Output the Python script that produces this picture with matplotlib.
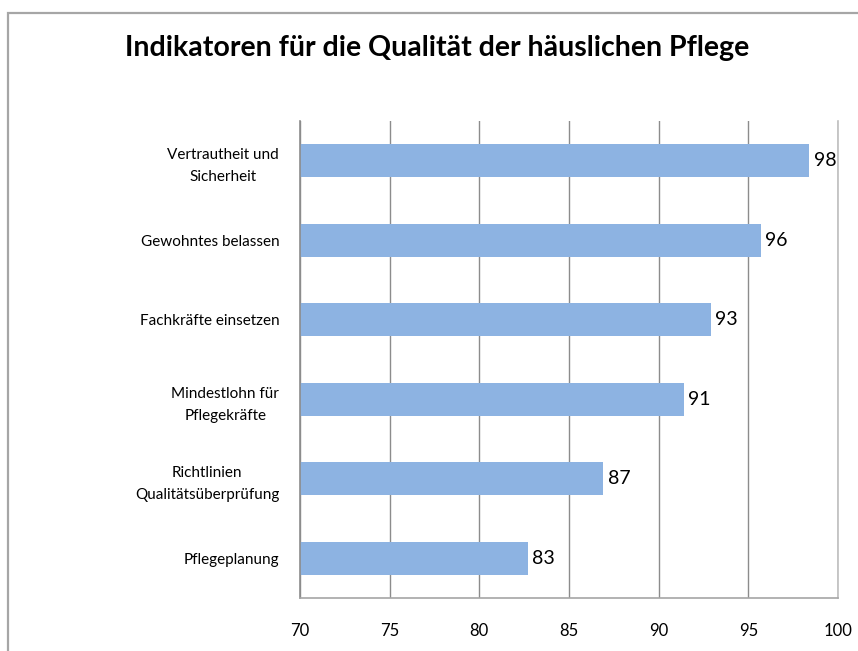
import numpy as np
import matplotlib.pyplot as plt
from matplotlib.patches import Rectangle

plt.rcParams['font.family'] = ['Lato', 'DejaVu Sans']

# data (top to bottom as shown)
categories = ["Vertrautheit und\nSicherheit", "Gewohntes belassen", "Fachkräfte einsetzen",
              "Mindestlohn für\nPflegekräfte", "Richtlinien\nQualitätsüberprüfung", "Pflegeplanung"]
values = [98.4, 95.7, 92.9, 91.4, 86.9, 82.7]
xticks = [70, 75, 80, 85, 90, 95, 100]

fig = plt.figure(figsize=(8.58, 6.51), dpi=100)
ax = fig.add_axes([300/858, 1 - 598/651, 538/858, 477/651])

# outer chart frame
fig.patches.append(Rectangle((8/858, -0.1), 1.2, 1 - 13/651 + 0.1, transform=fig.transFigure,
                             fill=False, edgecolor='#a6a6a6', linewidth=1.6))

y = np.arange(len(categories))
ax.barh(y, values, height=0.41, left=0, color='#8db3e2', zorder=2)
for yi, v in zip(y, values):
    ax.text(v + 0.25, yi, "{:.0f}".format(v), va='center', ha='left', fontsize=14, color='black')

ax.set_xlim(70, 100)
ax.set_ylim(len(categories) - 0.5, -0.5)
ax.set_xticks(xticks)
ax.set_yticks(y)
ax.set_yticklabels(categories, fontsize=11)
for lbl in ax.get_yticklabels():
    lbl.set_multialignment('center')
    lbl.set_linespacing(1.75)
ax.tick_params(axis='x', labelsize=12, length=0, pad=18)
ax.tick_params(axis='y', length=0, pad=15)
ax.grid(axis='x', color='#8c8c8c', linewidth=1.0, zorder=0)

ax.spines['top'].set_visible(False)
ax.spines['left'].set_color('#8c8c8c')
ax.spines['bottom'].set_color('#a6a6a6')
ax.spines['right'].set_color('#bfbfbf')
for s in ['left', 'bottom', 'right']:
    ax.spines[s].set_linewidth(1.2)

fig.text(437/858, 1 - 48/651, "Indikatoren für die Qualität der häuslichen Pflege",
         ha='center', va='center', fontsize=20.5, fontweight='bold')

fig.savefig("out.png", dpi=100)
